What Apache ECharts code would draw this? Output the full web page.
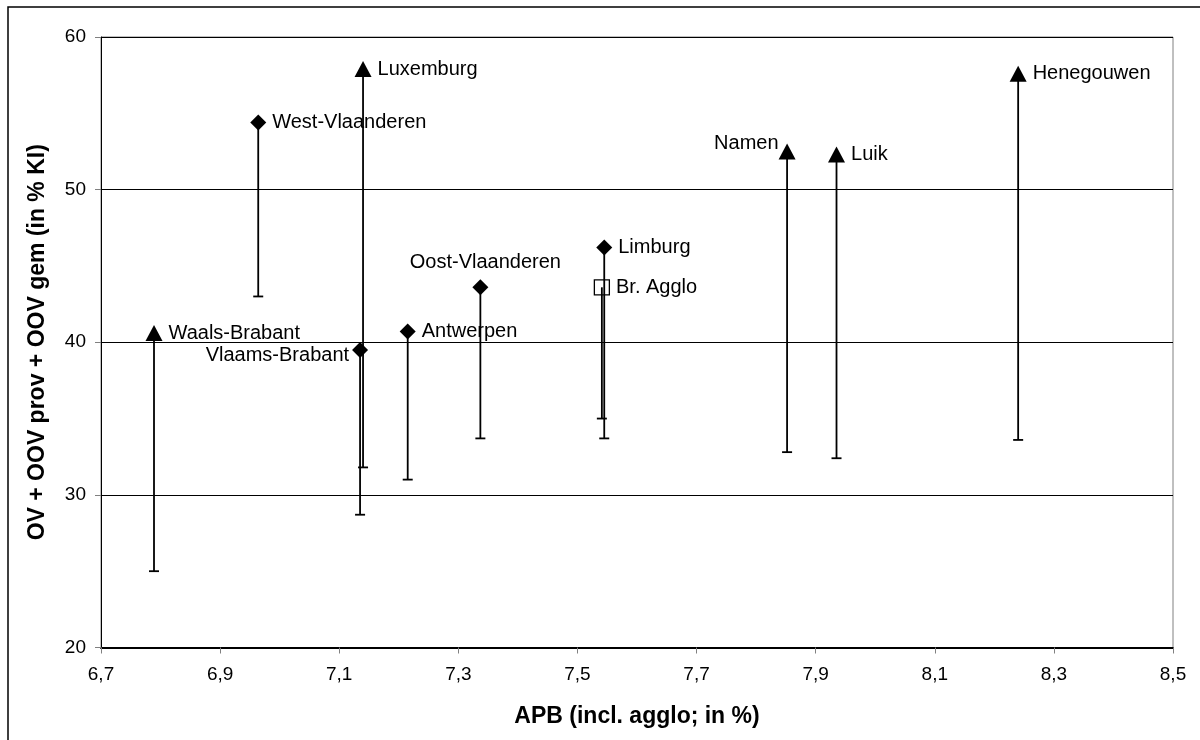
<!DOCTYPE html>
<html><head><meta charset="utf-8">
<script src="https://cdn.jsdelivr.net/npm/echarts@6/dist/echarts.min.js"></script>
<style>html,body{margin:0;padding:0;background:#fff}#c{width:1200px;height:740px}</style>
</head><body><div id="c"></div>
<script>
// ---- data ----
const regions = ['Waals-Brabant','Vlaams-Brabant','Luxemburg','West-Vlaanderen','Antwerpen','Oost-Vlaanderen','Limburg','Br. Agglo','Namen','Luik','Henegouwen'];
const gewest  = ['Wallonië','Vlaanderen','Wallonië','Vlaanderen','Vlaanderen','Vlaanderen','Vlaanderen','Brussel','Wallonië','Wallonië','Wallonië'];
const apb     = [6.789, 7.135, 7.140, 6.964, 7.215, 7.337, 7.545, 7.541, 7.852, 7.935, 8.240];
const ovTotal = [40.6, 39.5, 57.9, 54.4, 40.7, 43.6, 46.2, 43.6, 52.5, 52.3, 57.6];
const ovLow   = [25.0, 28.7, 31.8, 43.0, 31.0, 33.7, 33.7, 35.0, 32.8, 32.4, 33.6];
const xTitle = 'APB (incl. agglo; in %)';
const yTitle = 'OV + OOV prov + OOV gem (in % KI)';

// ---- styling ----
const FONT = "'Liberation Sans', Arial, sans-serif";
const symbolFor = {
  'Wallonië':   {symbol:'triangle', symbolSize:[17,16], itemStyle:{color:'#000', opacity:1}},
  'Vlaanderen': {symbol:'diamond',  symbolSize:[16,16], itemStyle:{color:'#000', opacity:1}},
  'Brussel':    {symbol:'rect',     symbolSize:[15,15], itemStyle:{color:'rgba(0,0,0,0)', borderColor:'#000', borderWidth:1.3, opacity:1}}
};
const labelFor = {
  'Vlaams-Brabant':  {position:'left', distance:3, offset:[0,6]},
  'Namen':           {position:'left', distance:0, offset:[0,-8]},
  'Oost-Vlaanderen': {position:'top',  distance:7, offset:[5,0]}
};

const points = regions.map((name,i) => Object.assign({
  name: name,
  value: [apb[i], ovTotal[i]],
  label: Object.assign({show:true, position:'right', distance:6, color:'#000',
                        fontFamily:FONT, fontSize:20}, labelFor[name] || {})
}, symbolFor[gewest[i]]));

const bars = regions.map((name,i) => [apb[i], ovTotal[i], ovLow[i]]);

const chart = echarts.init(document.getElementById('c'), null, {renderer:'canvas'});
chart.setOption({
  backgroundColor:'#fff',
  animation:false,
  textStyle:{fontFamily:FONT, color:'#000'},
  graphic:[{type:'rect', shape:{x:8, y:7, width:1400, height:900}, style:{fill:null, stroke:'#000', lineWidth:1.5}, silent:true, z:100}],
  grid:{left:101, right:27, top:37, bottom:92.5, show:true, borderColor:'#808080', borderWidth:1, backgroundColor:'#fff'},
  xAxis:{
    type:'value', min:6.7, max:8.5, interval:0.2,
    name:xTitle, nameLocation:'middle', nameGap:58,
    nameTextStyle:{fontFamily:FONT, fontSize:23, fontWeight:'bold', color:'#000'},
    axisLine:{show:true, lineStyle:{color:'#000', width:2}},
    axisTick:{show:true, inside:false, length:6, lineStyle:{color:'#808080', width:1}},
    axisLabel:{fontFamily:FONT, fontSize:19, color:'#000', margin:18,
      formatter: v => v.toFixed(1).replace('.', ',')},
    splitLine:{show:false}
  },
  yAxis:{
    type:'value', min:20, max:60, interval:10,
    name:yTitle, nameLocation:'middle', nameGap:52, nameRotate:90,
    nameTextStyle:{fontFamily:FONT, fontSize:23, fontWeight:'bold', color:'#000'},
    axisLine:{show:true, lineStyle:{color:'#000', width:1}},
    axisTick:{show:true, inside:false, length:6, lineStyle:{color:'#808080', width:1}},
    axisLabel:{fontFamily:FONT, fontSize:19, color:'#000', margin:15},
    splitLine:{show:true, lineStyle:{color:'#000', width:1}}
  },
  series:[
    {
      type:'custom', name:'bereik', z:2, silent:true,
      data: bars,
      renderItem: function(params, api){
        const top = api.coord([api.value(0), api.value(1)]);
        const bot = api.coord([api.value(0), api.value(2)]);
        const st = {stroke:'#000', lineWidth:1.8};
        return {type:'group', children:[
          {type:'line', shape:{x1:top[0], y1:top[1], x2:bot[0], y2:bot[1]}, style:st},
          {type:'line', shape:{x1:bot[0]-5, y1:bot[1], x2:bot[0]+5, y2:bot[1]}, style:st}
        ]};
      }
    },
    {
      type:'scatter', name:'provincies', z:3,
      data: points,
      itemStyle:{opacity:1},
      emphasis:{disabled:true},
      label:{show:true, color:'#000', fontFamily:FONT, fontSize:20, formatter: p => p.name}
    }
  ]
});
</script>
</body></html>
